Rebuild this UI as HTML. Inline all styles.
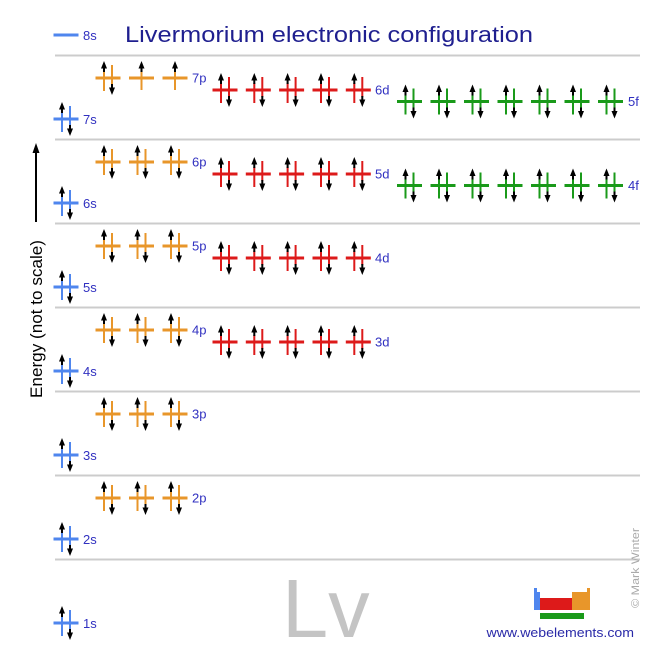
<!DOCTYPE html>
<html><head><meta charset="utf-8">
<style>
html,body{margin:0;padding:0;background:#fff;}
svg{display:block;}
text{font-family:"Liberation Sans",Arial,sans-serif;}
.lb{font-size:13px;fill:#3030c0;}
</style></head>
<body>
<svg width="660" height="660" viewBox="0 0 660 660" xmlns="http://www.w3.org/2000/svg">
<defs>
  <g id="pair">
    <line x1="-12.5" y1="0" x2="12.5" y2="0" stroke-width="3"/>
    <line x1="-4" y1="-7" x2="-4" y2="13" stroke-width="2"/>
    <line x1="4" y1="-13" x2="4" y2="7" stroke-width="2"/>
    <line x1="-4" y1="-11" x2="-4" y2="-6" stroke="#000" stroke-width="2"/>
    <polygon points="-4,-17 -7,-9.5 -1,-9.5" fill="#000" stroke="none"/>
    <line x1="4" y1="6" x2="4" y2="11" stroke="#000" stroke-width="2"/>
    <polygon points="4,17 1,9.5 7,9.5" fill="#000" stroke="none"/>
  </g>
  <g id="single">
    <line x1="-12.5" y1="0" x2="12.5" y2="0" stroke-width="3"/>
    <line x1="0" y1="-7" x2="0" y2="12" stroke-width="2"/>
    <line x1="0" y1="-11" x2="0" y2="-6" stroke="#000" stroke-width="2"/>
    <polygon points="0,-17 -3,-9.5 3,-9.5" fill="#000" stroke="none"/>
  </g>
</defs>

<!-- separators -->
<g stroke="#cccccc" stroke-width="2">
  <line x1="55" y1="55.5" x2="640" y2="55.5"/>
  <line x1="55" y1="139.5" x2="640" y2="139.5"/>
  <line x1="55" y1="223.5" x2="640" y2="223.5"/>
  <line x1="55" y1="307.5" x2="640" y2="307.5"/>
  <line x1="55" y1="391.5" x2="640" y2="391.5"/>
  <line x1="55" y1="475.5" x2="640" y2="475.5"/>
  <line x1="55" y1="559.5" x2="640" y2="559.5"/>
</g>

<!-- title -->
<text x="125" y="42" font-size="22.5" fill="#1f1f8f" textLength="408" lengthAdjust="spacingAndGlyphs">Livermorium electronic configuration</text>

<!-- energy axis -->
<line x1="36" y1="222" x2="36" y2="152" stroke="#000" stroke-width="2"/>
<polygon points="36,143 32.5,153 39.5,153" fill="#000"/>
<text transform="translate(42,398) rotate(-90)" font-size="17" fill="#000" textLength="158" lengthAdjust="spacingAndGlyphs">Energy (not to scale)</text>

<!-- s orbitals -->
<g stroke="#4f86ee">
  <line x1="53.5" y1="35" x2="78.5" y2="35" stroke-width="3"/>
  <use href="#pair" x="66" y="119"/>
  <use href="#pair" x="66" y="203"/>
  <use href="#pair" x="66" y="287"/>
  <use href="#pair" x="66" y="371"/>
  <use href="#pair" x="66" y="455"/>
  <use href="#pair" x="66" y="539"/>
  <use href="#pair" x="66" y="623"/>
</g>
<text class="lb" x="83" y="40">8s</text>
<text class="lb" x="83" y="124">7s</text>
<text class="lb" x="83" y="208">6s</text>
<text class="lb" x="83" y="292">5s</text>
<text class="lb" x="83" y="376">4s</text>
<text class="lb" x="83" y="460">3s</text>
<text class="lb" x="83" y="544">2s</text>
<text class="lb" x="83" y="628">1s</text>

<!-- p orbitals -->
<g stroke="#e8962a">
  <use href="#pair" x="108" y="78"/>
  <use href="#single" x="141.5" y="78"/>
  <use href="#single" x="175" y="78"/>

  <use href="#pair" x="108" y="162"/>
  <use href="#pair" x="141.5" y="162"/>
  <use href="#pair" x="175" y="162"/>

  <use href="#pair" x="108" y="246"/>
  <use href="#pair" x="141.5" y="246"/>
  <use href="#pair" x="175" y="246"/>

  <use href="#pair" x="108" y="330"/>
  <use href="#pair" x="141.5" y="330"/>
  <use href="#pair" x="175" y="330"/>

  <use href="#pair" x="108" y="414"/>
  <use href="#pair" x="141.5" y="414"/>
  <use href="#pair" x="175" y="414"/>

  <use href="#pair" x="108" y="498"/>
  <use href="#pair" x="141.5" y="498"/>
  <use href="#pair" x="175" y="498"/>
</g>
<text class="lb" x="192" y="82.5">7p</text>
<text class="lb" x="192" y="166.5">6p</text>
<text class="lb" x="192" y="250.5">5p</text>
<text class="lb" x="192" y="334.5">4p</text>
<text class="lb" x="192" y="418.5">3p</text>
<text class="lb" x="192" y="502.5">2p</text>

<!-- d orbitals -->
<g stroke="#dd1a1a">
  <use href="#pair" x="225" y="90"/>
  <use href="#pair" x="258.3" y="90"/>
  <use href="#pair" x="291.6" y="90"/>
  <use href="#pair" x="325" y="90"/>
  <use href="#pair" x="358.3" y="90"/>

  <use href="#pair" x="225" y="174"/>
  <use href="#pair" x="258.3" y="174"/>
  <use href="#pair" x="291.6" y="174"/>
  <use href="#pair" x="325" y="174"/>
  <use href="#pair" x="358.3" y="174"/>

  <use href="#pair" x="225" y="258"/>
  <use href="#pair" x="258.3" y="258"/>
  <use href="#pair" x="291.6" y="258"/>
  <use href="#pair" x="325" y="258"/>
  <use href="#pair" x="358.3" y="258"/>

  <use href="#pair" x="225" y="342"/>
  <use href="#pair" x="258.3" y="342"/>
  <use href="#pair" x="291.6" y="342"/>
  <use href="#pair" x="325" y="342"/>
  <use href="#pair" x="358.3" y="342"/>
</g>
<text class="lb" x="375" y="94.5">6d</text>
<text class="lb" x="375" y="178.5">5d</text>
<text class="lb" x="375" y="262.5">4d</text>
<text class="lb" x="375" y="346.5">3d</text>

<!-- f orbitals -->
<g stroke="#1a9a1a">
  <use href="#pair" x="409.5" y="101.5"/>
  <use href="#pair" x="443" y="101.5"/>
  <use href="#pair" x="476.5" y="101.5"/>
  <use href="#pair" x="510" y="101.5"/>
  <use href="#pair" x="543.5" y="101.5"/>
  <use href="#pair" x="577" y="101.5"/>
  <use href="#pair" x="610.5" y="101.5"/>

  <use href="#pair" x="409.5" y="185.5"/>
  <use href="#pair" x="443" y="185.5"/>
  <use href="#pair" x="476.5" y="185.5"/>
  <use href="#pair" x="510" y="185.5"/>
  <use href="#pair" x="543.5" y="185.5"/>
  <use href="#pair" x="577" y="185.5"/>
  <use href="#pair" x="610.5" y="185.5"/>
</g>
<text class="lb" x="628" y="106">5f</text>
<text class="lb" x="628" y="190">4f</text>

<!-- element symbol -->
<text x="282" y="637" font-size="83" fill="#c4c4c4">Lv</text>

<!-- logo -->
<rect x="534" y="588" width="3" height="22" fill="#4f86ee"/>
<rect x="537" y="592" width="3" height="18" fill="#4f86ee"/>
<rect x="540" y="598" width="32" height="12" fill="#dd1a1a"/>
<rect x="572" y="592" width="15" height="18" fill="#e8962a"/>
<rect x="587" y="588" width="3" height="22" fill="#e8962a"/>
<rect x="540" y="613" width="44" height="6" fill="#1a9a1a"/>

<text x="486.5" y="637" font-size="13" fill="#2a2aa8" textLength="147.5" lengthAdjust="spacingAndGlyphs">www.webelements.com</text>

<!-- copyright -->
<text transform="translate(639,608) rotate(-90)" font-size="11" fill="#aaaaaa" textLength="80" lengthAdjust="spacingAndGlyphs">© Mark Winter</text>
</svg>
</body></html>
